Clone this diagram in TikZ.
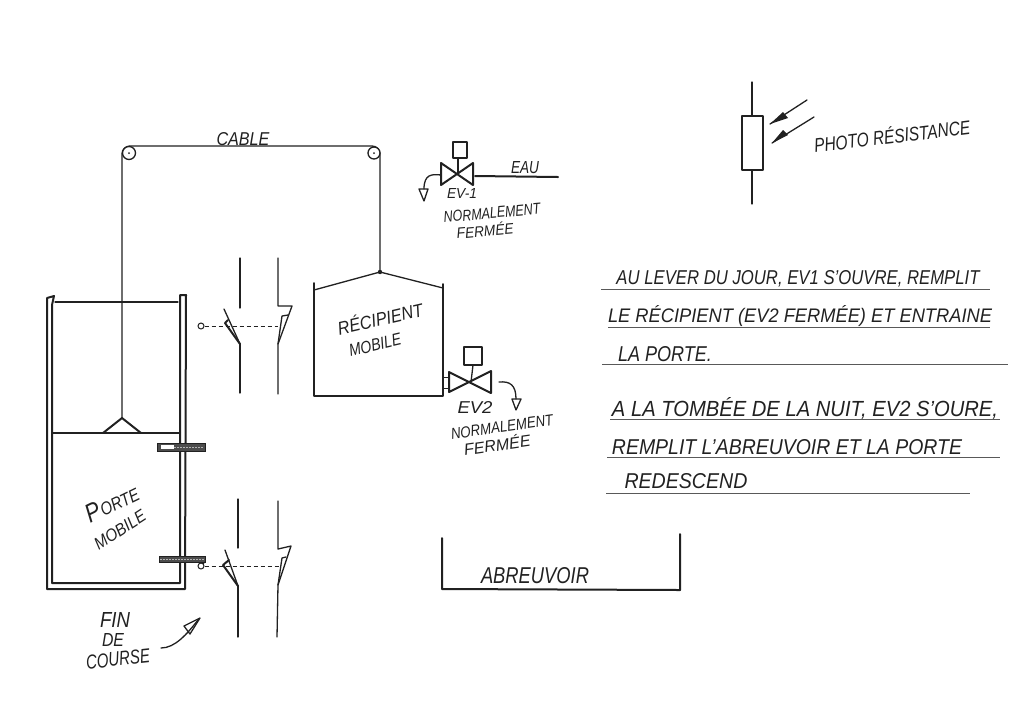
\documentclass[tikz,border=0pt]{standalone}
\usepackage{fontspec}
\usepackage{graphicx}
\setmainfont{Liberation Sans}
\definecolor{ink}{gray}{0.13}
\definecolor{barink}{gray}{0.3}
% width, height, text: stretched to the size of the hand lettering
\newcommand{\tw}[3]{\resizebox{#1pt}{#2pt}{\itshape #3}}
\tikzset{
  wire/.style={draw=ink,line width=1.3pt,line cap=round,line join=round},
  thick wire/.style={draw=ink,line width=2pt,line cap=round,line join=round},
  thin wire/.style={draw=ink,line width=0.9pt,line cap=round,line join=round},
  rule line/.style={draw=ink!75,line width=0.9pt},
  dash wire/.style={draw=ink,line width=0.8pt,dash pattern=on 4pt off 3pt},
  hand/.style={text=ink,inner sep=0pt,outer sep=0pt,anchor=center},
  bar/.style={draw=ink,fill=barink,line width=0.6pt},
  bar grain/.style={draw=white!70!black,line width=1pt,dash pattern=on 1.5pt off 1.5pt},
  pulley/.style={circle,draw=ink,line width=1.3pt,fill=white,inner sep=0pt},
  pad/.style={circle,draw=ink,line width=1pt,fill=white,inner sep=0pt,minimum size=6pt},
}
\begin{document}
\begin{tikzpicture}[x=1pt,y=-1pt]
\useasboundingbox (0,0) rectangle (1024,724);

% ---- frame of the door
\draw[thick wire] (47,298) -- (47,589) -- (185,589) -- (186,295) -- (180,295) -- (180,583) -- (52,583) -- (52,305) -- (54,296) -- (47,298);
\draw[wire] (55,302) -- (178,302);
\draw[thick wire] (52,433) -- (180,433);

% ---- cable and pulleys
\coordinate (hook) at (122,418);
\coordinate (apex) at (380,272);
\draw[wire,rounded corners=8pt] (hook) -- (122,146) -- (380,146) -- (apex);
\node[pulley,minimum size=13pt] (pulleyL) at (129,153) {};
\node[pulley,minimum size=12pt] (pulleyR) at (374,153) {};
\fill[ink] (pulleyL.center) circle (1pt) (pulleyR.center) circle (1pt);
\draw[thick wire] (hook) -- (103,433);
\draw[thick wire] (hook) -- (141,433);

% ---- cams on the door
\fill[bar] (157,443) rectangle (205,451);
\draw[bar grain] (174,447) -- (204,447);
\fill[white] (161,445) rectangle (174,449);
\fill[bar] (159,556) rectangle (205,562);
\draw[bar grain] (160,559) -- (204,559);
\node[pad] (padA) at (201,326) {};
\node[pad] (padB) at (201,566) {};
\draw[thin wire] (205,562) -- (padB);

% ---- upper limit switch
\coordinate (uL) at (240,344);
\coordinate (uR) at (278,344);
\draw[wire] (240,258) -- (240,308);
\draw[wire] (uL) -- (240,393);
\draw[wire] (uL) -- (224,309);
\draw[thick wire] (uL) -- (225,323) -- (228,320);
\draw[wire] (278,258) -- (278,306) -- (292,306) -- (uR) -- (278,394);
\draw[wire] (uR) -- (282,316) -- (288,315);
\draw[dash wire] (padA) -- (uR |- padA);

% ---- lower limit switch
\coordinate (lL) at (238,586);
\coordinate (lR) at (278,585);
\draw[wire] (238,499) -- (238,548);
\draw[wire] (lL) -- (238,637);
\draw[wire] (lL) -- (225,550);
\draw[thick wire] (lL) -- (223,565) -- (229,560);
\draw[wire] (278,501) -- (278,549) -- (291,546) -- (lR) -- (277,637);
\draw[wire] (lR) -- (282,558) -- (286,557);
\draw[dash wire] (padB) -- (280,566);

% ---- container
\draw[thick wire] (314,283) -- (314,396) -- (443,396) -- (443,284);
\draw[wire] (314,290) -- (apex) -- (443,288);
\fill[ink] (apex) circle (2.2pt);

% ---- EV1
\draw[thick wire] (441,163) -- (473,185) -- (473,163) -- (441,185) -- cycle;
\draw[wire] (453,142) rectangle (467,158);
\draw[wire] (458,158) -- (458,174);
\draw[thick wire] (475,176) -- (558,177);
\draw[wire] (441,175) .. controls (432,174) and (424,174) .. (424,189);
\draw[wire] (419,189) -- (428,189) -- (424,201) -- cycle;

% ---- EV2
\draw[thick wire] (449,372) -- (491,393) -- (491,371) -- (449,392) -- cycle;
\draw[wire] (464,347) rectangle (482,365);
\draw[wire] (473,365) -- (471,382);
\draw[thin wire] (443,377) -- (449,377) (443,388) -- (449,388);
\draw[wire] (499,382) .. controls (510,381) and (516,385) .. (516,399);
\draw[wire] (512,399) -- (521,399) -- (516,410) -- cycle;

% ---- trough
\draw[thick wire] (442,538) -- (442,589) -- (680,590) -- (680,534);

% ---- photoresistor
\draw[wire] (742,116) rectangle (763,170);
\draw[wire] (752,82) -- (752,116) (752,170) -- (752,204);
\draw[wire] (807,100) -- (770,124);
\draw[wire] (814,117) -- (772,143);
\fill[ink] (770,124) -- (783,112) -- (788,118) -- cycle;
\fill[ink] (772,143) -- (783,130) -- (788,135) -- cycle;

% ---- pointer
\draw[wire] (161,648) .. controls (175,648) and (187,634) .. (198,620);
\draw[wire] (200,618) -- (184,626) -- (190,634) -- cycle;

% ---- rules under the text
\draw[rule line] (601,289) -- (990,289);
\draw[rule line] (608,327) -- (990,327);
\draw[rule line] (602,364) -- (1008,364);
\draw[rule line] (610,419) -- (1000,419);
\draw[rule line] (607,457) -- (1000,457);
\draw[rule line] (606,493) -- (970,493);

% ---- labels
\node[hand] (tCable) at (243,139) {\tw{53}{13}{CABLE}};
\node[hand] (tEau) at (525,168) {\tw{28}{12}{EAU}};
\node[hand] (tEv1) at (462,193) {\tw{30}{10}{EV-1}};
\node[hand,rotate=5] (tN1) at (492,213) {\tw{97}{11}{NORMALEMENT}};
\node[hand,rotate=5] (tF1) at (485,230) {\tw{57}{13}{FERMÉE}};
\node[hand] (tEv2) at (475,407) {\tw{35}{12}{EV2}};
\node[hand,rotate=8] (tN2) at (502,427) {\tw{103}{11}{NORMALEMENT}};
\node[hand,rotate=8] (tF2) at (497,444) {\tw{67}{14}{FERMÉE}};
\node[hand,rotate=13] (tRec) at (380,318) {\tw{87}{16}{RÉCIPIENT}};
\node[hand,rotate=13] (tMob) at (375,345) {\tw{53}{12}{MOBILE}};
\node[hand,rotate=26] (tPorte) at (112,503) {\tw{56}{18}{\fontsize{16}{16}\selectfont P\fontsize{11}{11}\selectfont ORTE}};
\node[hand,rotate=33] (tMobile) at (120,530) {\tw{58}{12}{MOBILE}};
\node[hand] (tFin) at (115,620) {\tw{30}{15}{FIN}};
\node[hand] (tDe) at (113,640) {\tw{22}{13}{DE}};
\node[hand,rotate=6] (tCourse) at (118,659) {\tw{64}{14}{COURSE}};
\node[hand] (tAbr) at (535,576) {\tw{108}{16}{ABREUVOIR}};
\node[hand,rotate=7] (tPhoto) at (892,135) {\tw{157}{17}{PHOTO RÉSISTANCE}};
\node[hand] (tL1) at (798,279) {\tw{363}{14}{AU LEVER DU JOUR, EV1 S'OUVRE, REMPLIT}};
\node[hand] (tL2) at (800,316) {\tw{384}{17}{LE RÉCIPIENT (EV2 FERMÉE) ET ENTRAINE}};
\node[hand] (tL3) at (665,354) {\tw{94}{15}{LA PORTE.}};
\node[hand] (tL4) at (805,408) {\tw{386}{19}{A LA TOMBÉE DE LA NUIT, EV2 S'OURE,}};
\node[hand] (tL5) at (787,447) {\tw{350}{15}{REMPLIT L'ABREUVOIR ET LA PORTE}};
\node[hand] (tL6) at (686,481) {\tw{123}{15}{REDESCEND}};
\end{tikzpicture}
\end{document}
